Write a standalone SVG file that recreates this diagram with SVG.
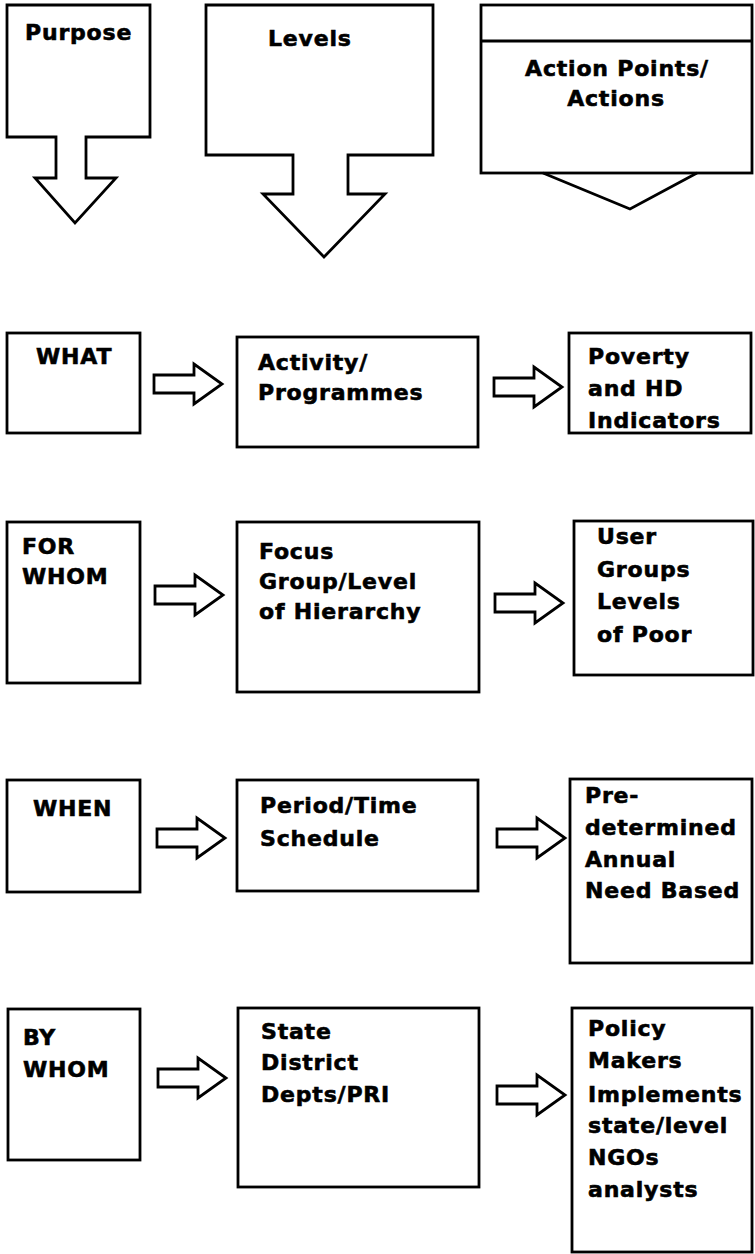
<svg xmlns="http://www.w3.org/2000/svg" width="755" height="1254" viewBox="0 0 755 1254">
<style>
.s{fill:#fff;stroke:#000;stroke-width:2.8;stroke-linejoin:miter}
.o{fill:none;stroke:#000;stroke-width:2.8}
.t{font-family:"DejaVu Sans","Liberation Sans",sans-serif;font-weight:bold;font-size:22px;letter-spacing:0.8px;fill:#000;stroke:#000;stroke-width:0.6}
.c{text-anchor:middle}
</style>
<defs>
<path id="arr" d="M0,-9 H40 V-20 L68,0 L40,20 V9 H0 Z"/>
</defs>
<rect width="755" height="1254" fill="#fff"/>

<g id="purpose">
<path class="s" d="M7,5 H150 V137 H86 V178 H116 L75,223 L35,178 H56 V137 H7 Z"/>
<text class="t" x="25" y="40">Purpose</text>
</g>
<g id="levels">
<path class="s" d="M206,5 H433 V155 H348 V194 H385 L324,257 L263,194 H293 V155 H206 Z"/>
<text class="t" x="268" y="46">Levels</text>
</g>
<g id="actions">
<rect class="s" x="481" y="5" width="271" height="168"/>
<path class="o" d="M481,41 H752 M543,173 L630,209 L697,173"/>
<text class="t c" x="617" y="76">Action Points/</text>
<text class="t c" x="616" y="106">Actions</text>
</g>

<g id="what">
<rect class="s" x="7" y="333" width="133" height="100"/>
<text class="t" x="36" y="364">WHAT</text>
</g>
<g id="activity">
<rect class="s" x="237" y="337" width="241" height="110"/>
<text class="t" x="258" y="370">Activity/</text>
<text class="t" x="258" y="400">Programmes</text>
</g>
<g id="poverty">
<rect class="s" x="569" y="333" width="182" height="100"/>
<text class="t" x="588" y="364">Poverty</text>
<text class="t" x="588" y="396">and HD</text>
<text class="t" x="588" y="428">Indicators</text>
</g>

<g id="forwhom">
<rect class="s" x="7" y="522" width="133" height="161"/>
<text class="t" x="22" y="554">FOR</text>
<text class="t" x="22" y="584">WHOM</text>
</g>
<g id="focus">
<rect class="s" x="237" y="522" width="242" height="170"/>
<text class="t" x="259" y="559">Focus</text>
<text class="t" x="259" y="589">Group/Level</text>
<text class="t" x="259" y="619">of Hierarchy</text>
</g>
<g id="user">
<rect class="s" x="574" y="521" width="179" height="154"/>
<text class="t" x="597" y="544">User</text>
<text class="t" x="597" y="577">Groups</text>
<text class="t" x="597" y="609">Levels</text>
<text class="t" x="597" y="642">of Poor</text>
</g>

<g id="when">
<rect class="s" x="7" y="780" width="133" height="112"/>
<text class="t" x="33" y="816">WHEN</text>
</g>
<g id="period">
<rect class="s" x="237" y="780" width="241" height="111"/>
<text class="t" x="260" y="813">Period/Time</text>
<text class="t" x="260" y="846">Schedule</text>
</g>
<g id="predetermined">
<rect class="s" x="570" y="779" width="182" height="184"/>
<text class="t" x="585" y="803">Pre-</text>
<text class="t" x="585" y="835">determined</text>
<text class="t" x="585" y="867">Annual</text>
<text class="t" x="585" y="898">Need Based</text>
</g>

<g id="bywhom">
<rect class="s" x="8" y="1009" width="132" height="151"/>
<text class="t" x="23" y="1045">BY</text>
<text class="t" x="23" y="1077">WHOM</text>
</g>
<g id="state">
<rect class="s" x="238" y="1008" width="241" height="179"/>
<text class="t" x="261" y="1039">State</text>
<text class="t" x="261" y="1070">District</text>
<text class="t" x="261" y="1102">Depts/PRI</text>
</g>
<g id="policy">
<rect class="s" x="572" y="1008" width="180" height="244"/>
<text class="t" x="588" y="1036">Policy</text>
<text class="t" x="588" y="1068">Makers</text>
<text class="t" x="588" y="1102">Implements</text>
<text class="t" x="588" y="1133">state/level</text>
<text class="t" x="588" y="1165">NGOs</text>
<text class="t" x="588" y="1197">analysts</text>
</g>

<g id="connectors">
<use href="#arr" class="s" x="154" y="384"/>
<use href="#arr" class="s" x="494" y="387"/>
<use href="#arr" class="s" x="155" y="595"/>
<use href="#arr" class="s" x="495" y="603"/>
<use href="#arr" class="s" x="157" y="838"/>
<use href="#arr" class="s" x="497" y="838"/>
<use href="#arr" class="s" x="158" y="1078"/>
<use href="#arr" class="s" x="497" y="1095"/>
</g>
</svg>
